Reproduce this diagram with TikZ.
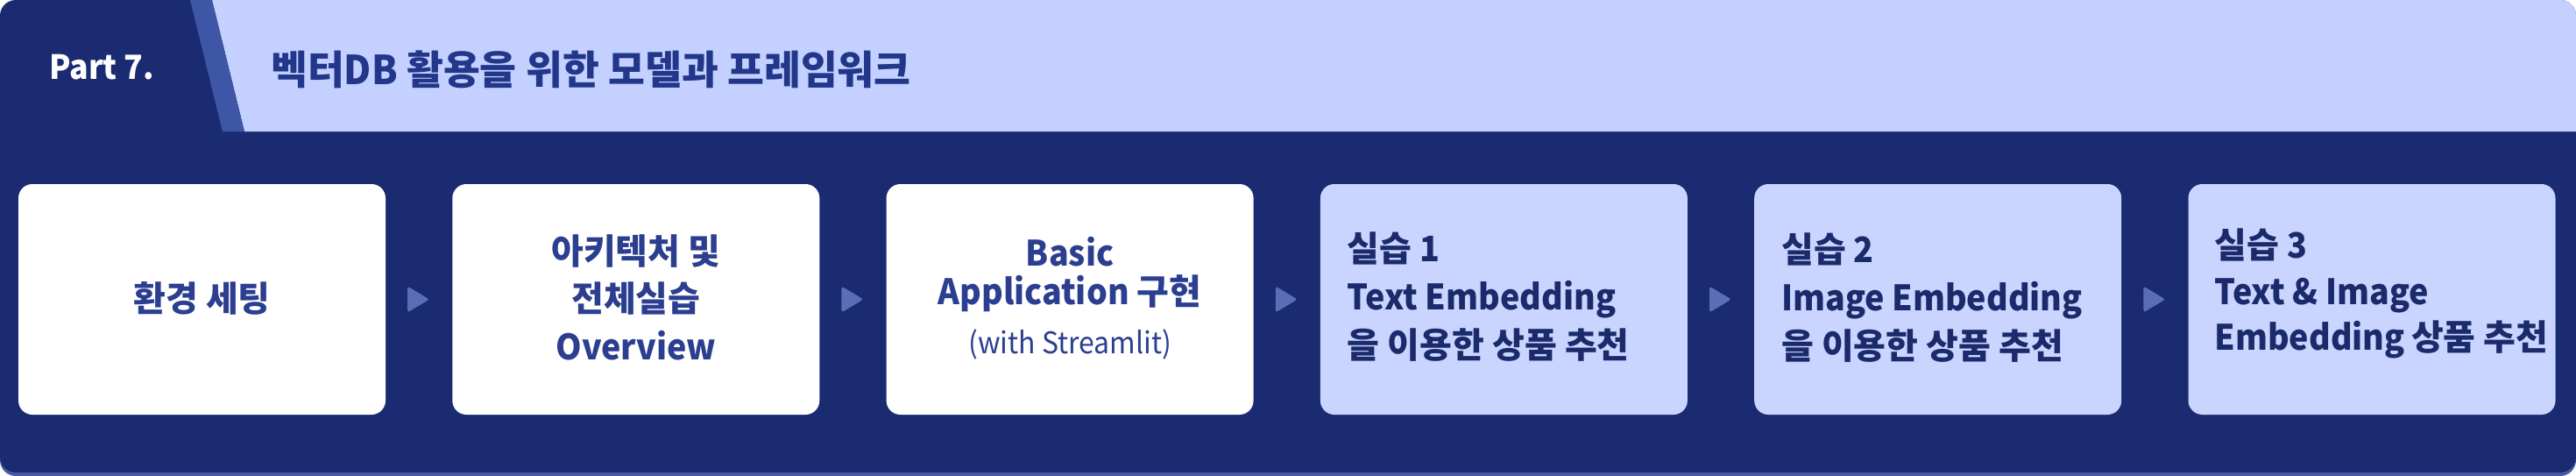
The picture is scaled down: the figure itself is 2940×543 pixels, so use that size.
\documentclass[tikz,border=0pt]{standalone}
\usepackage{fontspec}
\setmainfont{Noto Sans CJK KR}
\newfontfamily\lat{Noto Sans CJK KR}[FakeStretch=0.94]
\usetikzlibrary{calc}
\definecolor{navy}{HTML}{1A2B71}
\definecolor{shadowc}{HTML}{4A5AA2}
\definecolor{band}{HTML}{C4D0FF}
\definecolor{stripe}{HTML}{3F56A6}
\definecolor{lbox}{HTML}{C9D5FF}
\definecolor{arrowc}{HTML}{5A6DB6}
\definecolor{titlec}{HTML}{22368A}
\definecolor{wtext}{HTML}{2C3E90}
\definecolor{ltext}{HTML}{1B2A6B}
\begin{document}
\begin{tikzpicture}[x=1pt,y=-1pt,
  card/.style={minimum width=419pt,minimum height=263pt,inner sep=0pt,rounded corners=16pt},
  wcard/.style={card,fill=white},
  lcard/.style={card,fill=lbox},
  wline/.style={anchor=base,inner sep=0pt,text=wtext,font=\fontsize{40}{48}\selectfont\bfseries},
  wsmall/.style={anchor=base,inner sep=0pt,text=wtext,font=\fontsize{34}{40}\selectfont},
  lline/.style={anchor=base west,inner sep=0pt,text=ltext,font=\fontsize{40}{48}\selectfont\bfseries},
  tip/.style={fill=arrowc,rounded corners=3pt}]
\useasboundingbox (0,0) rectangle (2940,543);
% card with shadow
\fill[shadowc,rounded corners=18pt] (0,4) rectangle (2940,543);
\begin{scope}
  \clip[rounded corners=18pt] (0,0) rectangle (2940,539);
  \fill[navy] (0,0) rectangle (2940,539);
  \fill[band] (242,0) -- (2940,0) -- (2940,150) -- (279,150) -- cycle;
  \fill[stripe] (217,0) -- (242,0) -- (279,150) -- (254,150) -- cycle;
\end{scope}
% header texts
\node[anchor=base west,inner sep=0pt,text=white,font=\fontsize{38}{46}\selectfont\bfseries] (part) at (56,90) {\lat Part 7.};
\node[anchor=base west,inner sep=0pt,text=titlec,font=\fontsize{45.5}{54}\selectfont\bfseries] (title) at (309,96) {벡터{\lat DB} 활용을 위한 모델과 프레임워크};
% boxes
\node[wcard] (b1) at (230.5,341.5) {};
\node[wcard] (b2) at (725.8,341.5) {};
\node[wcard] (b3) at (1221.1,341.5) {};
\node[lcard] (b4) at (1716.4,341.5) {};
\node[lcard] (b5) at (2211.7,341.5) {};
\node[lcard] (b6) at (2707.0,341.5) {};
% arrows between boxes
\foreach \a/\b in {b1/b2,b2/b3,b3/b4,b4/b5,b5/b6}{
  \path (\a.east) -- coordinate[midway] (m\a) (\b.west);
  \fill[tip] ($(m\a)+(-13,-15)$) -- ($(m\a)+(12,0)$) -- ($(m\a)+(-13,15)$) -- cycle;
}
% box 1
\node[wline] (t1a) at (230.5,355) {환경 세팅};
% box 2
\node[wline] (t2a) at (725.8,301) {아키텍처 및};
\node[wline] (t2b) at (725.8,355) {전체실습};
\node[wline] (t2c) at (725.8,410) {\lat Overview};
% box 3
\node[wline] (t3a) at (1221.1,303) {\lat Basic};
\node[wline] (t3b) at (1221.1,347) {{\lat Application} 구현};
\node[wsmall] (t3c) at (1221.1,403) {\lat (with Streamlit)};
% box 4
\node[lline] (t4a) at ($(b4.west)+(31,-43.5)$) {실습 {\lat 1}};
\node[lline] (t4b) at ($(b4.west)+(31,11.5)$) {\lat Text Embedding};
\node[lline] (t4c) at ($(b4.west)+(31,66.5)$) {을 이용한 상품 추천};
% box 5
\node[lline] (t5a) at ($(b5.west)+(31,-42.5)$) {실습 {\lat 2}};
\node[lline] (t5b) at ($(b5.west)+(31,12.5)$) {\lat Image Embedding};
\node[lline] (t5c) at ($(b5.west)+(31,67.5)$) {을 이용한 상품 추천};
% box 6
\node[lline] (t6a) at ($(b6.west)+(30,-47.5)$) {실습 {\lat 3}};
\node[lline] (t6b) at ($(b6.west)+(30,5.5)$) {\lat Text \& Image};
\node[lline] (t6c) at ($(b6.west)+(30,57.5)$) {{\lat Embedding}\hspace{-2pt} 상품 추천};
\end{tikzpicture}
\end{document}
